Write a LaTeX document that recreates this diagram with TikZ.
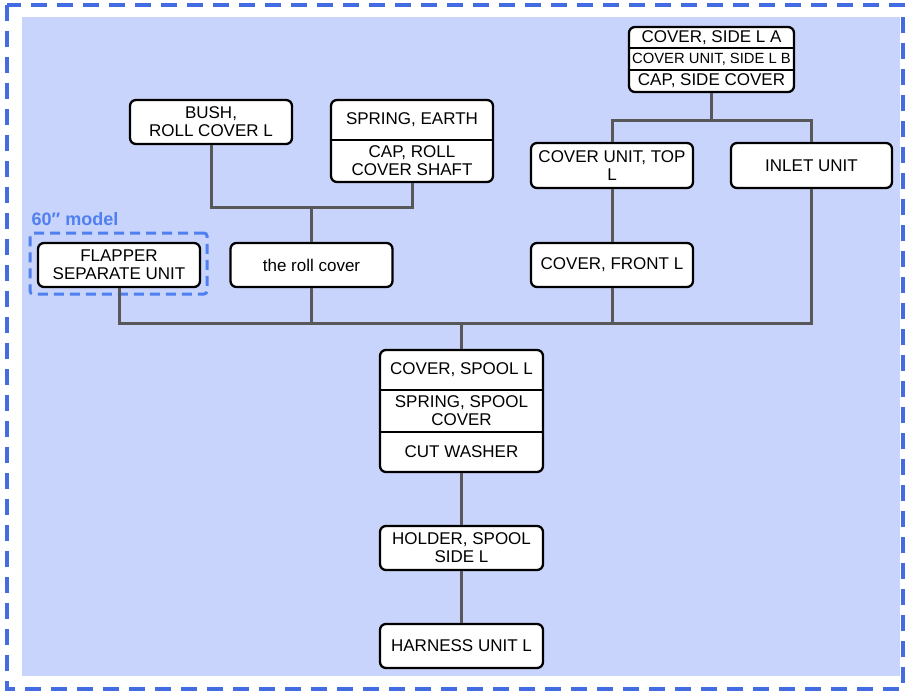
\documentclass[tikz,border=0pt]{standalone}
\usepackage{fontspec}
\setmainfont{Liberation Sans}
\usetikzlibrary{positioning}

\definecolor{bgblue}{RGB}{200,212,251}
\definecolor{frameblue}{RGB}{68,108,226}
\definecolor{modelblue}{RGB}{80,128,240}
\definecolor{linkgray}{RGB}{88,88,88}

\begin{document}
\begin{tikzpicture}[x=1pt, y=-1pt,
    unit/.style={draw=black, line width=2.3pt, rounded corners=6pt, fill=white,
        minimum width=162pt, minimum height=44pt, inner sep=0pt, align=center,
        font=\fontsize{17}{18}\selectfont},
    part/.style={inner sep=0pt, align=center, font=\fontsize{17}{18}\selectfont},
    sep/.style={draw=black, line width=1.2pt},
    link/.style={draw=linkgray, line width=3pt}]
    \useasboundingbox (0,0) rectangle (905,693);
    \fill[bgblue] (22,17) rectangle (900,676);
    \draw[frameblue, line width=3.5pt, dash pattern=on 16pt off 10pt] (7,5) rectangle (903,689);

    \node[unit] (1) at (211,122) {BUSH,\\ROLL COVER L};
    \node[unit, minimum height=82pt] (2) at (412,141) {};
    \node[part] (2a) at (412,120) {SPRING, EARTH};
    \node[part] (2b) at (412,161) {CAP, ROLL\\COVER SHAFT};
    \draw[sep] (2.west |- 0,140) -- (2.east |- 0,140);

    \node[unit, minimum width=165pt, minimum height=65pt] (3) at (711.5,59.5) {};
    \node[part] (3a) at (711.5,37.5) {COVER, SIDE L A};
    \node[part, font=\fontsize{14.8}{16}\selectfont] (3b) at (711.5,59) {COVER UNIT, SIDE L B};
    \node[part] (3c) at (711.5,81) {CAP, SIDE COVER};
    \draw[sep] (3.west |- 0,48) -- (3.east |- 0,48);
    \draw[sep] (3.west |- 0,70) -- (3.east |- 0,70);

    \node[unit, minimum height=45pt] (4) at (612,165.5) {COVER UNIT, TOP\\L};
    \node[unit, minimum width=161pt, minimum height=45pt] (5) at (811.5,165.5) {INLET UNIT};

    \node[unit] (6) at (119,265) {FLAPPER\\SEPARATE UNIT};
    \node[draw=modelblue, line width=3pt, dash pattern=on 10pt off 6pt, rounded corners=3pt,
        minimum width=177pt, minimum height=61pt] (6m) at (118.5,263.5) {};
    \node[anchor=south west, inner sep=0pt, text=modelblue, font=\fontsize{18}{20}\selectfont\bfseries]
        (6t) at ([xshift=3pt, yshift=6pt]6m.north west) {60″ model};
    \node[unit] (7) at (311.5,265) {the roll cover};
    \node[unit] (8) at (612,265) {COVER, FRONT L};

    \node[unit, minimum width=163pt, minimum height=122pt] (9) at (461.5,411) {};
    \node[part] (9a) at (461.5,370) {COVER, SPOOL L};
    \node[part] (9b) at (461.5,411) {SPRING, SPOOL\\COVER};
    \node[part] (9c) at (461.5,452) {CUT WASHER};
    \draw[sep] (9.west |- 0,390) -- (9.east |- 0,390);
    \draw[sep] (9.west |- 0,432) -- (9.east |- 0,432);

    \node[unit, minimum width=163pt] (10) at (461.5,548) {HOLDER, SPOOL\\SIDE L};
    \node[unit, minimum width=163pt] (11) at (461.5,646) {HARNESS UNIT L};

    \coordinate (j1) at (311.5,207);
    \coordinate (j2) at (711.5,120);
    \coordinate (j3) at (461.5,323);

    \draw[link] (1.south) |- (j1);
    \draw[link] (2.south) |- (j1);
    \draw[link] (j1) -- (7.north);
    \draw[link] (3.south) -- (j2);
    \draw[link] (j2) -| (4.north);
    \draw[link] (j2) -| (5.north);
    \draw[link] (4.south) -- (8.north);
    \draw[link] (6.south) |- (j3);
    \draw[link] (7.south) |- (j3);
    \draw[link] (8.south) |- (j3);
    \draw[link] (5.south) |- (j3);
    \draw[link] (j3) -- (9.north);
    \draw[link] (9.south) -- (10.north);
    \draw[link] (10.south) -- (11.north);
\end{tikzpicture}
\end{document}
